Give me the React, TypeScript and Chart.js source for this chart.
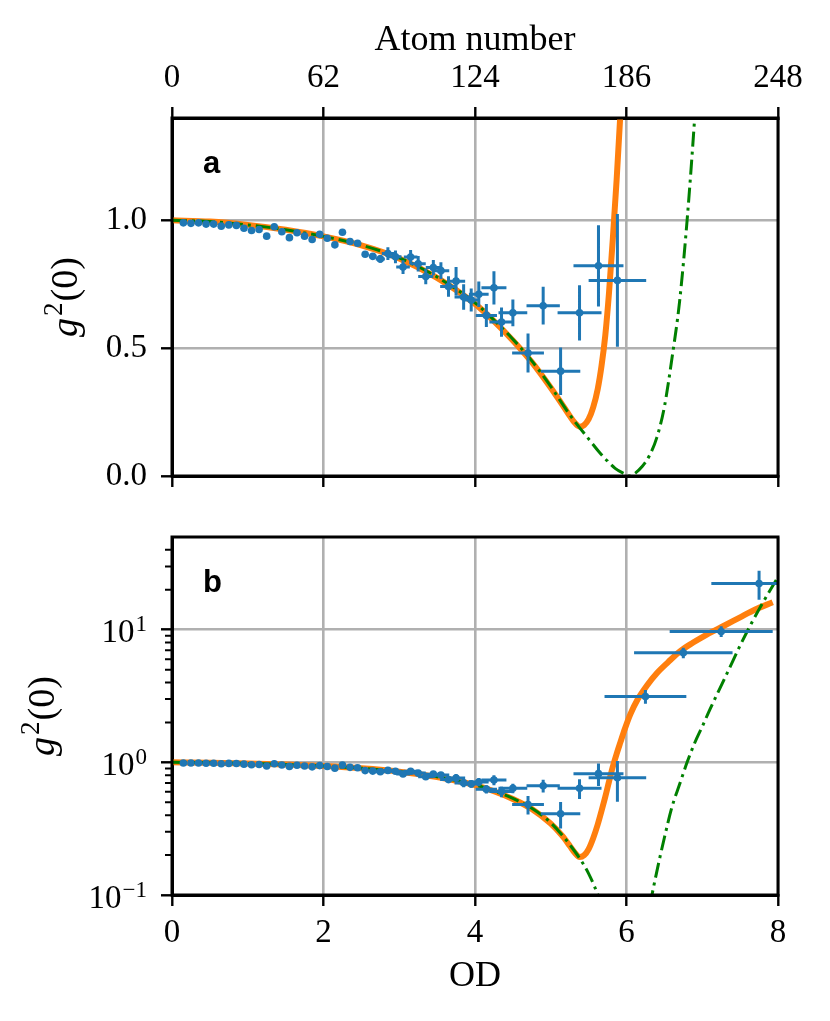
import { useEffect, useRef } from 'react';
import { Chart, registerables } from 'chart.js';

Chart.register(...registerables);

// measured points: optical density, g2(0), and their errors
const OD = [
  0.15, 0.25, 0.35, 0.45, 0.55, 0.65, 0.75, 0.85, 0.95, 1.05, 1.15, 1.25, 1.35, 1.45, 1.55, 1.65,
  1.75, 1.85, 1.95, 2.05, 2.15, 2.25, 2.35, 2.45, 2.55, 2.65, 2.75, 2.85, 2.95, 3.05, 3.15, 3.25,
  3.35, 3.45, 3.55, 3.65, 3.75, 3.85, 3.95, 4.05, 4.15, 4.25, 4.35, 4.5, 4.7, 4.9, 5.13, 5.38,
  5.63, 5.88, 6.25, 6.75, 7.25, 7.75
];
const G2 = [
  0.99, 0.988, 0.99, 0.985, 0.985, 0.977, 0.982, 0.98, 0.969, 0.96, 0.964, 0.938, 0.975, 0.955, 0.932, 0.951,
  0.938, 0.925, 0.945, 0.93, 0.904, 0.953, 0.917, 0.91, 0.867, 0.859, 0.849, 0.87, 0.857, 0.817, 0.856, 0.83,
  0.78, 0.815, 0.803, 0.741, 0.762, 0.7, 0.688, 0.711, 0.628, 0.736, 0.602, 0.638, 0.481, 0.666, 0.41, 0.638,
  0.822, 0.765, 3.14, 6.7, 9.7, 22.3
];
const OD_ERR = [
  0.02, 0.02, 0.02, 0.02, 0.02, 0.02, 0.02, 0.02, 0.02, 0.025, 0.025, 0.025, 0.025, 0.025, 0.025, 0.025,
  0.03, 0.03, 0.03, 0.03, 0.03, 0.03, 0.035, 0.035, 0.04, 0.05, 0.06, 0.08, 0.08, 0.09, 0.09, 0.1,
  0.1, 0.1, 0.11, 0.11, 0.12, 0.12, 0.12, 0.13, 0.14, 0.165, 0.16, 0.19, 0.21, 0.22, 0.26, 0.29,
  0.33, 0.38, 0.54, 0.65, 0.68, 0.63
];
const G2_ERR = [
  0.004, 0.004, 0.004, 0.004, 0.005, 0.005, 0.005, 0.005, 0.005, 0.006, 0.006, 0.006, 0.006, 0.007, 0.007, 0.007,
  0.008, 0.008, 0.008, 0.009, 0.009, 0.01, 0.01, 0.011, 0.01, 0.012, 0.015, 0.025, 0.025, 0.027, 0.028, 0.03,
  0.03, 0.03, 0.033, 0.04, 0.055, 0.05, 0.045, 0.05, 0.045, 0.065, 0.057, 0.052, 0.076, 0.074, 0.093, 0.108,
  0.159, 0.26, 0.37, 0.6, 0.9, 5.5
];

// fit (orange)
const FIT_OD = [
  0, 0.5, 1, 1.5, 2, 2.5, 3, 3.5, 4, 4.25, 4.5, 4.75, 5, 5.15, 5.25, 5.32, 5.38, 5.44, 5.5, 5.56,
  5.62, 5.67, 5.72, 5.77, 5.82, 5.87, 5.92, 5.98, 6.05, 6.15, 6.27, 6.4, 6.55, 6.71, 6.88, 7.06,
  7.3, 7.5, 7.7, 7.93
];
const FIT_G2 = [
  1.0, 0.995, 0.982, 0.963, 0.937, 0.902, 0.851, 0.775, 0.673, 0.606, 0.53, 0.445, 0.345, 0.28, 0.235, 0.207, 0.193, 0.199, 0.222, 0.268,
  0.34, 0.43, 0.55, 0.72, 0.93, 1.16, 1.42, 1.8, 2.3, 3.0, 3.8, 4.7, 5.7, 6.9, 8.0, 9.2,
  10.8, 12.4, 14.2, 16.1
];

// theory (green dash-dot)
const THEORY_OD = [
  0, 0.5, 1, 1.5, 2, 2.5, 3, 3.5, 4, 4.25, 4.5, 4.75, 5, 5.25, 5.5, 5.65, 5.75, 5.85, 5.95, 6.05,
  6.12, 6.2, 6.3, 6.4, 6.5, 6.6, 6.7, 6.8, 6.9, 7.0, 7.1, 7.2, 7.35, 7.5, 7.65, 7.8, 8
];
const THEORY_G2 = [
  1.0, 0.995, 0.982, 0.963, 0.937, 0.903, 0.853, 0.778, 0.677, 0.61, 0.535, 0.45, 0.35, 0.24, 0.145, 0.09, 0.058, 0.03, 0.012, 0,
  0.012, 0.035, 0.078, 0.15, 0.27, 0.46, 0.68, 1.0, 1.4, 1.86, 2.5, 3.3, 5.0, 7.6, 11.2, 16.0, 25
];

const ATOM_TICKS = [0, 62, 124, 186, 248];
const LIN_TICKS = [0, 0.5, 1.0];
const LOG_TICKS = [0.1, 1, 10];
const LOG_EXPONENTS = ['\u22121', '0', '1'];
const LOG_MINOR = [0.2, 0.3, 0.4, 0.5, 0.6, 0.7, 0.8, 0.9, 2, 3, 4, 5, 6, 7, 8, 9, 20, 30, 40];

const SERIF = '"Liberation Serif", "DejaVu Serif", serif';
const SANS = '"Liberation Sans", Arial, sans-serif';
const BLUE = '#1f77b4';
const ORANGE = '#ff7f0e';
const GREEN = '#008000';
const GRID = '#b0b0b0';
const TICK_FONT = { family: SERIF, size: 33 };
const LABEL_FONT = { family: SERIF, size: 36 };

const gridOpts = { color: GRID, lineWidth: 2.6, tickColor: '#000', tickWidth: 2.4, tickLength: 11 };
const borderOpts = { color: '#000', width: 3 };

function pts(xs: number[], ys: number[], log: boolean) {
  return xs.map((x, i) => ({ x, y: ys[i] })).filter((p) => !log || p.y > 0);
}

function datasets(log: boolean) {
  return [
    {
      type: 'line' as const,
      data: pts(FIT_OD, FIT_G2, log),
      borderColor: ORANGE,
      borderWidth: 6,
      pointRadius: 0,
      cubicInterpolationMode: 'monotone' as const,
      clip: 0,
      order: 3
    },
    {
      type: 'line' as const,
      data: pts(THEORY_OD, THEORY_G2, log),
      borderColor: GREEN,
      borderWidth: 3,
      borderDash: [15, 5, 3, 5],
      pointRadius: 0,
      cubicInterpolationMode: 'monotone' as const,
      clip: 0,
      order: 2
    },
    {
      type: 'scatter' as const,
      data: pts(OD, G2, false),
      backgroundColor: BLUE,
      borderWidth: 0,
      pointRadius: 3.8,
      clip: 0,
      order: 1
    }
  ];
}

// error bars drawn just before the points, after the curves
const errorBars = {
  id: 'errorBars',
  beforeDatasetDraw(chart: any, args: any) {
    if (args.index !== 2) return;
    const { ctx, chartArea: a } = chart;
    const x = chart.scales.x;
    const y = chart.scales.y;
    ctx.save();
    ctx.beginPath();
    ctx.rect(a.left, a.top, a.right - a.left, a.bottom - a.top);
    ctx.clip();
    ctx.strokeStyle = BLUE;
    ctx.lineWidth = 3;
    ctx.beginPath();
    OD.forEach((v, i) => {
      const px = x.getPixelForValue(v);
      const py = y.getPixelForValue(G2[i]);
      ctx.moveTo(x.getPixelForValue(v - OD_ERR[i]), py);
      ctx.lineTo(x.getPixelForValue(v + OD_ERR[i]), py);
      ctx.moveTo(px, y.getPixelForValue(Math.max(G2[i] - G2_ERR[i], 1e-3)));
      ctx.lineTo(px, y.getPixelForValue(G2[i] + G2_ERR[i]));
    });
    ctx.stroke();
    ctx.restore();
  }
};

function drawYTitle(ctx: CanvasRenderingContext2D, cx: number, cy: number) {
  const big = 38;
  const small = 27;
  const fG = `italic ${big}px ${SERIF}`;
  const f2 = `${small}px ${SERIF}`;
  const f0 = `${big}px ${SERIF}`;
  ctx.save();
  ctx.translate(cx, cy);
  ctx.rotate(-Math.PI / 2);
  ctx.fillStyle = '#000';
  ctx.textBaseline = 'alphabetic';
  ctx.textAlign = 'left';
  ctx.font = fG;
  const wG = ctx.measureText('g').width;
  ctx.font = f2;
  const w2 = ctx.measureText('2').width;
  ctx.font = f0;
  const w0 = ctx.measureText('(0)').width;
  let u = -(wG + 2 + w2 + 1 + w0) / 2;
  const base = 9;
  ctx.font = fG;
  ctx.fillText('g', u, base);
  u += wG + 2;
  ctx.font = f2;
  ctx.fillText('2', u, base - 15);
  u += w2 + 1;
  ctx.font = f0;
  ctx.fillText('(0)', u, base);
  ctx.restore();
}

function decor(label: string, titleX: number, log: boolean) {
  return {
    id: 'decor',
    afterDatasetsDraw(chart: any) {
      const { ctx, chartArea: a } = chart;
      const y = chart.scales.y;
      ctx.save();
      ctx.strokeStyle = '#000';
      ctx.lineWidth = 3;
      ctx.strokeRect(a.left, a.top, a.right - a.left, a.bottom - a.top);
      if (log) {
        ctx.lineWidth = 2;
        ctx.beginPath();
        LOG_MINOR.forEach((v) => {
          const py = y.getPixelForValue(v);
          ctx.moveTo(a.left, py);
          ctx.lineTo(a.left - 7, py);
        });
        ctx.stroke();
        // decade labels as 10 with a raised exponent
        ctx.fillStyle = '#000';
        ctx.textBaseline = 'alphabetic';
        ctx.textAlign = 'right';
        LOG_TICKS.forEach((v, i) => {
          const py = y.getPixelForValue(v);
          const right = a.left - 25;
          ctx.font = `23px ${SERIF}`;
          const we = ctx.measureText(LOG_EXPONENTS[i]).width;
          ctx.fillText(LOG_EXPONENTS[i], right, py + 1.5);
          ctx.font = `${TICK_FONT.size}px ${SERIF}`;
          ctx.fillText('10', right - we - 1, py + 12.5);
        });
      }
      ctx.fillStyle = '#000';
      ctx.textAlign = 'left';
      ctx.textBaseline = 'alphabetic';
      ctx.font = `bold 31px ${SANS}`;
      ctx.fillText(label, a.left + 31, a.top + 55);
      drawYTitle(ctx, titleX, (a.top + a.bottom) / 2);
      ctx.restore();
    }
  };
}

function TopPanel() {
  const ref = useRef<HTMLCanvasElement | null>(null);
  useEffect(() => {
    if (!ref.current) return;
    const chart = new Chart(ref.current, {
      type: 'line',
      data: { datasets: datasets(false) as never },
      options: {
        responsive: false,
        animation: false,
        layout: { padding: { left: 0, right: 52, top: 0, bottom: 0 } },
        plugins: { legend: { display: false }, tooltip: { enabled: false } },
        scales: {
          x: {
            type: 'linear',
            position: 'bottom',
            min: 0,
            max: 8,
            ticks: { stepSize: 2, display: false },
            grid: gridOpts,
            border: borderOpts,
            afterFit: (s: any) => {
              s.height = 34;
            }
          },
          x2: {
            type: 'linear',
            position: 'top',
            min: 0,
            max: 248,
            afterBuildTicks: (s: any) => {
              s.ticks = ATOM_TICKS.map((value) => ({ value }));
            },
            ticks: { font: TICK_FONT, color: '#000', padding: 9, maxRotation: 0 },
            grid: { ...gridOpts, drawOnChartArea: false },
            border: borderOpts,
            title: {
              display: true,
              text: 'Atom number',
              font: LABEL_FONT,
              color: '#000',
              padding: { top: 19, bottom: 0 }
            },
            afterFit: (s: any) => {
              s.height = 118;
            }
          },
          y: {
            type: 'linear',
            min: 0,
            max: 1.4,
            afterBuildTicks: (s: any) => {
              s.ticks = LIN_TICKS.map((value) => ({ value }));
            },
            ticks: {
              font: TICK_FONT,
              color: '#000',
              padding: 14,
              callback: (v: any) => Number(v).toFixed(1)
            },
            grid: gridOpts,
            border: borderOpts,
            afterFit: (s: any) => {
              s.width = 172;
            }
          }
        }
      },
      plugins: [errorBars, decor('a', 67.5, false)]
    });
    return () => chart.destroy();
  }, []);
  return (
    <canvas ref={ref} width={830} height={510} style={{ position: 'absolute', left: 0, top: 0 }} />
  );
}

function BottomPanel() {
  const ref = useRef<HTMLCanvasElement | null>(null);
  useEffect(() => {
    if (!ref.current) return;
    const chart = new Chart(ref.current, {
      type: 'line',
      data: { datasets: datasets(true) as never },
      options: {
        responsive: false,
        animation: false,
        layout: { padding: { left: 0, right: 52, top: 27, bottom: 0 } },
        plugins: { legend: { display: false }, tooltip: { enabled: false } },
        scales: {
          x: {
            type: 'linear',
            position: 'bottom',
            min: 0,
            max: 8,
            ticks: { stepSize: 2, font: TICK_FONT, color: '#000', padding: 8, maxRotation: 0 },
            grid: gridOpts,
            border: borderOpts,
            title: {
              display: true,
              text: 'OD',
              font: LABEL_FONT,
              color: '#000',
              padding: { top: 0, bottom: 23 }
            },
            afterFit: (s: any) => {
              s.height = 126;
            }
          },
          y: {
            type: 'logarithmic',
            min: 0.1,
            max: 50,
            afterBuildTicks: (s: any) => {
              s.ticks = LOG_TICKS.map((value) => ({ value }));
            },
            ticks: { display: false },
            grid: gridOpts,
            border: borderOpts,
            afterFit: (s: any) => {
              s.width = 172;
            }
          }
        }
      },
      plugins: [errorBars, decor('b', 44.5, true)]
    });
    return () => chart.destroy();
  }, []);
  return (
    <canvas ref={ref} width={830} height={511} style={{ position: 'absolute', left: 0, top: 510 }} />
  );
}

export default function App() {
  return (
    <div
      style={{
        position: 'absolute',
        left: 0,
        top: 0,
        width: 830,
        height: 1021,
        background: '#fff'
      }}
    >
      <TopPanel />
      <BottomPanel />
    </div>
  );
}
